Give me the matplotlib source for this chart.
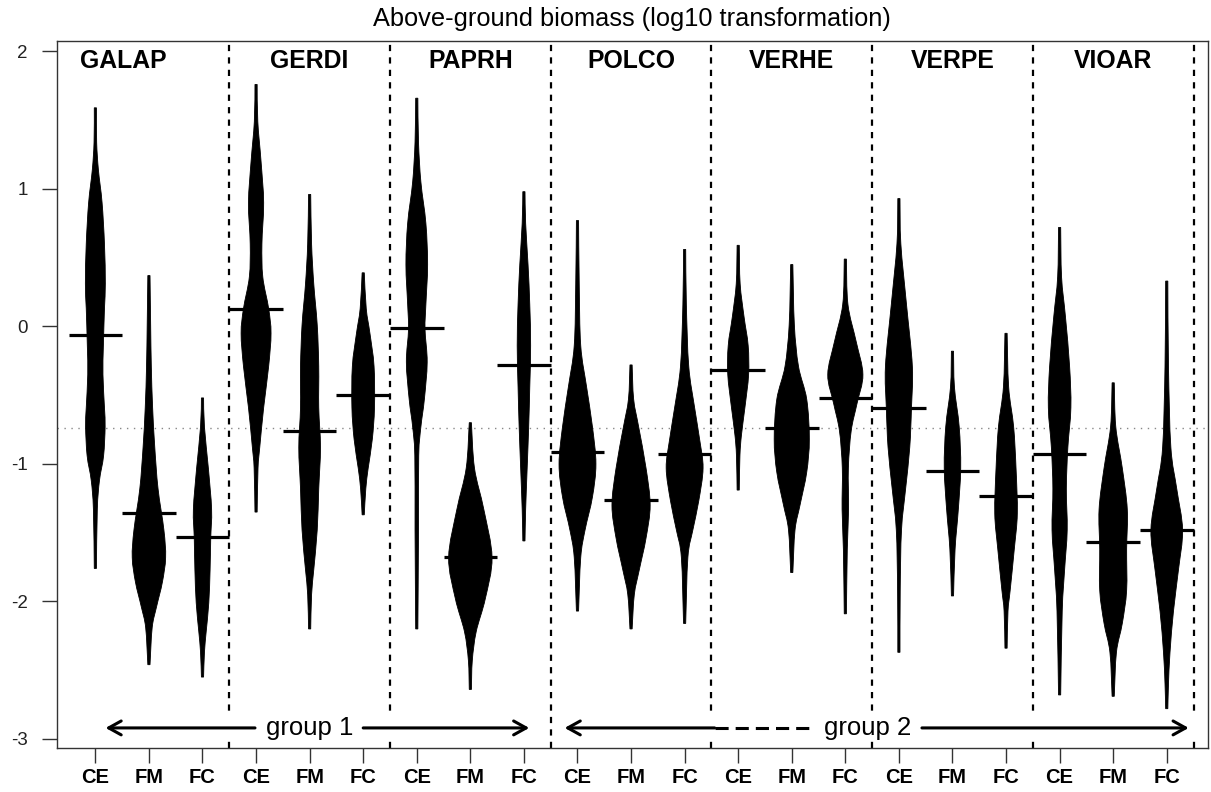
import numpy as np
import matplotlib
matplotlib.use('Agg')
import matplotlib.pyplot as plt
from matplotlib.patches import Rectangle, PathPatch
from matplotlib.path import Path

plt.rcParams['font.family'] = ['Liberation Sans', 'DejaVu Sans']

# species blocks and treatments (3 beans each)
species = ['GALAP', 'GERDI', 'PAPRH', 'POLCO', 'VERHE', 'VERPE', 'VIOAR']
treatments = ['CE', 'FM', 'FC']
label_x = [1.52, 5, 8, 11, 14, 17, 20]

# bean outlines: y levels (log10 biomass) and relative density
bean_y = [
    [1.59, 1.34, 1.14, 0.90, 0.60, 0.31, 0.13, -0.14, -0.35, -0.59, -0.73, -0.94, -1.12, -1.33, -1.76],
    [0.37, 0.01, -0.29, -0.59, -0.88, -1.18, -1.48, -1.68, -1.86, -2.04, -2.19, -2.46],
    [-0.52, -0.73, -1.03, -1.33, -1.54, -1.77, -2.01, -2.22, -2.37, -2.55],
    [1.76, 1.49, 1.20, 0.90, 0.60, 0.36, 0.13, -0.05, -0.29, -0.59, -0.88, -1.03, -1.35],
    [0.96, 0.60, 0.31, 0.01, -0.29, -0.59, -0.88, -1.18, -1.48, -1.77, -1.95, -2.20],
    [0.39, 0.13, -0.05, -0.29, -0.59, -0.82, -1.03, -1.18, -1.37],
    [1.66, 1.34, 1.05, 0.75, 0.45, 0.16, -0.02, -0.26, -0.53, -0.73, -0.94, -1.48, -2.20],
    [-0.70, -1.03, -1.33, -1.68, -1.98, -2.22, -2.43, -2.64],
    [0.98, 0.75, 0.45, 0.16, -0.14, -0.44, -0.73, -1.03, -1.33, -1.56],
    [0.77, 0.31, -0.14, -0.44, -0.73, -1.00, -1.24, -1.48, -1.68, -2.07],
    [-0.28, -0.53, -0.73, -1.03, -1.30, -1.54, -1.77, -1.95, -2.20],
    [0.56, 0.16, -0.29, -0.59, -0.82, -1.03, -1.27, -1.48, -1.68, -2.16],
    [0.59, 0.31, 0.07, -0.14, -0.35, -0.59, -0.79, -0.94, -1.19],
    [0.45, 0.01, -0.29, -0.53, -0.82, -1.06, -1.30, -1.48, -1.79],
    [0.49, 0.16, -0.11, -0.35, -0.56, -0.76, -1.03, -1.33, -1.62, -2.09],
    [0.93, 0.60, 0.16, -0.29, -0.59, -0.88, -1.18, -1.48, -1.92, -2.37],
    [-0.18, -0.44, -0.73, -1.03, -1.33, -1.62, -1.96],
    [-0.05, -0.44, -0.73, -1.03, -1.36, -1.62, -1.92, -2.07, -2.34],
    [0.72, 0.36, 0.07, -0.29, -0.59, -0.88, -1.18, -1.48, -1.77, -2.07, -2.68],
    [-0.41, -0.73, -1.03, -1.33, -1.62, -1.92, -2.16, -2.37, -2.69],
    [0.33, -0.29, -0.88, -1.18, -1.48, -1.77, -2.07, -2.37, -2.60, -2.78],
]
bean_w = [
    [0.05, 0.06, 0.14, 0.31, 0.42, 0.46, 0.42, 0.37, 0.35, 0.42, 0.45, 0.38, 0.19, 0.09, 0.05],
    [0.05, 0.08, 0.11, 0.17, 0.27, 0.42, 0.69, 0.77, 0.62, 0.35, 0.15, 0.05],
    [0.05, 0.09, 0.27, 0.42, 0.38, 0.35, 0.29, 0.17, 0.09, 0.05],
    [0.05, 0.08, 0.23, 0.35, 0.27, 0.31, 0.58, 0.69, 0.58, 0.35, 0.17, 0.09, 0.05],
    [0.05, 0.09, 0.19, 0.35, 0.42, 0.42, 0.50, 0.42, 0.35, 0.19, 0.09, 0.05],
    [0.05, 0.14, 0.31, 0.50, 0.52, 0.42, 0.23, 0.12, 0.05],
    [0.05, 0.08, 0.19, 0.42, 0.50, 0.42, 0.38, 0.48, 0.35, 0.19, 0.09, 0.08, 0.05],
    [0.05, 0.19, 0.62, 1.00, 0.69, 0.27, 0.09, 0.05],
    [0.05, 0.08, 0.19, 0.27, 0.31, 0.27, 0.22, 0.15, 0.08, 0.05],
    [0.05, 0.08, 0.15, 0.42, 0.69, 0.85, 0.69, 0.35, 0.15, 0.05],
    [0.05, 0.12, 0.35, 0.69, 0.88, 0.69, 0.38, 0.15, 0.05],
    [0.05, 0.08, 0.19, 0.46, 0.69, 0.85, 0.65, 0.38, 0.15, 0.05],
    [0.05, 0.09, 0.27, 0.46, 0.48, 0.31, 0.15, 0.08, 0.05],
    [0.05, 0.12, 0.31, 0.69, 0.81, 0.69, 0.38, 0.15, 0.05],
    [0.05, 0.12, 0.50, 0.81, 0.54, 0.27, 0.14, 0.15, 0.09, 0.05],
    [0.05, 0.09, 0.35, 0.62, 0.58, 0.50, 0.31, 0.12, 0.06, 0.05],
    [0.05, 0.09, 0.31, 0.38, 0.27, 0.12, 0.05],
    [0.05, 0.12, 0.35, 0.46, 0.52, 0.38, 0.19, 0.09, 0.05],
    [0.05, 0.09, 0.27, 0.46, 0.52, 0.38, 0.31, 0.35, 0.23, 0.12, 0.05],
    [0.05, 0.12, 0.42, 0.65, 0.62, 0.62, 0.42, 0.15, 0.05],
    [0.05, 0.08, 0.19, 0.46, 0.73, 0.54, 0.31, 0.15, 0.08, 0.05],
]
bean_mean = [-0.06, -1.36, -1.53, 0.13, -0.76, -0.50, -0.01, -1.68, -0.28,
             -0.91, -1.26, -0.93, -0.32, -0.74, -0.52, -0.59, -1.05, -1.23,
             -0.93, -1.57, -1.48]
overall_mean = -0.74
yticks = [-3, -2, -1, 0, 1, 2]

n = len(bean_mean)
pos = np.arange(1, n + 1)
wmax = 0.405  # half width of the widest bean, x units


def smooth_side(pts):
    # bezier segments through the outline points (catmull-rom style handles)
    p = np.vstack([pts[0], pts, pts[-1]])
    verts, codes = [], []
    for i in range(1, len(p) - 2):
        c1 = p[i] + (p[i + 1] - p[i - 1]) / 6
        c2 = p[i + 1] - (p[i + 2] - p[i]) / 6
        verts += [c1, c2, p[i + 1]]
        codes += [Path.CURVE4] * 3
    return verts, codes


def bean_patch(x0, y, w):
    y = np.asarray(y)
    w = np.asarray(w)
    right = np.column_stack([x0 + w, y])
    left = np.column_stack([x0 - w, y])[::-1]
    verts = [right[0]]
    codes = [Path.MOVETO]
    v, c = smooth_side(right)
    verts += v
    codes += c
    verts.append(left[0])
    codes.append(Path.LINETO)
    v, c = smooth_side(left)
    verts += v
    codes += c
    verts.append(right[0])
    codes.append(Path.CLOSEPOLY)
    return PathPatch(Path(verts, codes), facecolor='black', edgecolor='black',
                     lw=0.6, zorder=3)


fig = plt.figure(figsize=(12.11, 7.92), dpi=100)
ax = fig.add_axes([57 / 1211, 1 - 748 / 792, 1151 / 1211, 707 / 792])
ax.set_xlim(0.284, 21.77)
ax.set_ylim(-3.066, 2.076)

# dotted overall line
ax.axhline(overall_mean, color='#888888', lw=1, linestyle=(0, (1, 4)), zorder=1)

# block separators
for b in range(1, len(species) + 1):
    ax.axvline(3 * b + 0.5, color='black', lw=1.6, linestyle=(0, (2.8, 2.8)), zorder=1)

for i in range(n):
    ax.add_patch(bean_patch(pos[i], bean_y[i], np.array(bean_w[i]) * wmax))
    ax.plot([pos[i] - 0.5, pos[i] + 0.5], [bean_mean[i]] * 2, color='black',
            lw=2.3, solid_capstyle='butt', zorder=4)

for name, x in zip(species, label_x):
    ax.text(x, 1.93, name, ha='center', va='center', fontsize=17.8,
            fontweight='bold')

# group arrows
ya = -2.92
ax.add_patch(Rectangle((1.05, -3.01), 8.2, 0.2, color='white', zorder=2))
ax.add_patch(Rectangle((9.68, -3.01), 11.95, 0.2, color='white', zorder=2))
akw = dict(arrowstyle='->,head_length=0.45,head_width=0.25', lw=2.2,
           color='black', shrinkA=0, shrinkB=0, mutation_scale=20)
ax.annotate('', xy=(1.19, ya), xytext=(3.98, ya), arrowprops=akw, zorder=5)
ax.annotate('', xy=(9.10, ya), xytext=(6.0, ya), arrowprops=akw, zorder=5)
ax.text(5.0, ya, 'group 1', ha='center', va='center', fontsize=18.5, zorder=5)
ax.annotate('', xy=(9.76, ya), xytext=(12.56, ya), arrowprops=akw, zorder=5)
ax.plot([12.56, 14.36], [ya, ya], color='black', lw=2.2,
        linestyle=(0, (4.3, 2.3)), zorder=5)
ax.annotate('', xy=(21.41, ya), xytext=(16.43, ya), arrowprops=akw, zorder=5)
ax.text(15.41, ya, 'group 2', ha='center', va='center', fontsize=18.5, zorder=5)

# axes styling
for s in ax.spines.values():
    s.set_color('#333333')
    s.set_linewidth(1.0)
ax.set_xticks(pos)
ax.set_xticklabels(treatments * len(species))
ax.set_yticks(yticks)
ax.set_yticklabels([str(t) for t in yticks])
ax.tick_params(axis='x', length=11, width=1, color='#333333', pad=3.5)
ax.tick_params(axis='y', length=11, width=1, color='#333333', pad=10,
               labelcolor='#222222')
for lab in ax.get_xticklabels():
    lab.set_fontsize(14.5)
    lab.set_fontweight('bold')
for lab in ax.get_yticklabels():
    lab.set_fontsize(13.5)

fig.text(632 / 1211, 1 - 19 / 792, 'Above-ground biomass (log10 transformation)',
         ha='center', va='center', fontsize=18.3)

fig.savefig('out.png', dpi=100)
